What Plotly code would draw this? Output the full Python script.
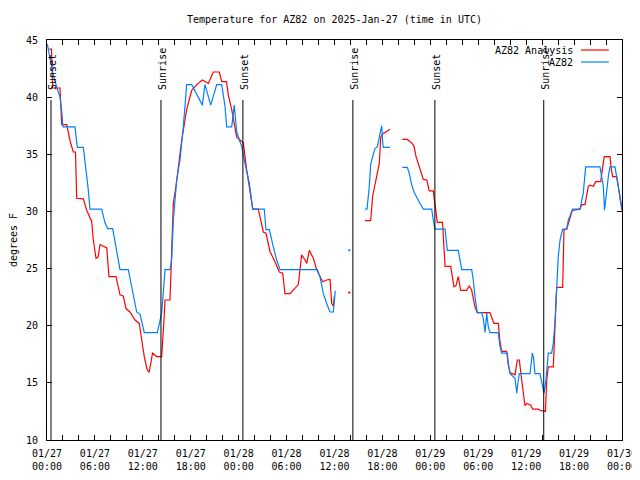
import datetime as dt
import plotly.graph_objects as go

BASE = dt.datetime(2025, 1, 27, 0, 0)

# ---- data (hours after 2025-01-27 00:00 UTC, degrees F); None = gap ----
analysis_hours = [0.29, 0.56, 0.71, 1.63, 1.84, 2.47, 2.88, 3.29, 3.57, 3.72, 4.55, 4.97, 5.6, 5.8, 6.14,
                  6.39, 6.64, 7.48, 7.76, 8.64, 9.14, 9.55, 9.89, 10.39, 11.02, 11.56, 11.86, 12.18, 12.52,
                  12.77, 13.02, 13.21, 13.74, 14.36, 14.65, 14.78, 15.4, 15.61, 15.82, 16.15, 16.57, 16.87,
                  17.49, 18.12, 18.75, 19.45, 20.2, 20.82, 21.58, 21.88, 22.48, 22.7, 23.13, 23.75, 24.17,
                  24.58, 25.01, 25.42, 25.76, 26.46, 26.76, 27.09, 27.42, 27.71, 27.92, 28.55, 29.09, 29.51,
                  29.8, 30.43, 31.47, 31.68, 31.89, 32.31, 32.52, 32.85, 33.35, 33.77, 34.1, 34.52, 35.02,
                  35.44, 35.65, 35.85, 35.98, None,
                  39.82, 40.53, 40.78, 41.07, 41.41, 41.61, 41.79, 42.04, 42.54, 42.95, None,
                  44.49, 45.12, 45.67, 45.96, 46.21, 46.49, 46.79, 47.12, 47.55, 47.87, 48.37, 48.59, 48.71,
                  48.87, 49.53, 49.71, 49.84, 50.55, 50.8, 50.96, 51.21, 51.5, 51.8, 52.55, 52.88, 53.18,
                  53.38, 53.59, 53.88, 55.47, 55.97, 56.51, 56.72, 56.94, 57.56, 57.76, 57.98, 58.6, 58.89,
                  59.14, 59.44, 59.73, 59.85, 60.07, 60.57, 60.82, 61.52, 61.73, 62.42, 62.57, 62.77, 63.4,
                  63.61, 63.82, 64.57, 64.74, 65.07, 65.78, 66.74, 66.95, 67.37, 67.58, 67.78, 67.99, 68.41,
                  68.71, 69.33, 69.58, 69.78, 70.5, 70.62, 70.83, 71.33, 71.53, 71.74, 71.99]
analysis_temp = [44.2, 44.2, 40.8, 40.8, 37.6, 37.6, 36.2, 35.2, 35.2, 31.15, 31.1, 30.1, 29.1, 27.5, 25.9,
                 26.0, 27.1, 26.8, 24.3, 24.3, 22.7, 22.6, 21.5, 21.2, 20.5, 20.2, 18.75, 17.3, 16.2,
                 15.9, 16.8, 17.6, 17.3, 17.3, 20.5, 22.25, 22.25, 26.3, 30.7, 32.2, 34.5, 36.25,
                 38.9, 40.6, 41.1, 41.5, 41.2, 42.2, 42.2, 41.35, 41.35, 40.2, 38.9, 36.5, 36.25,
                 36.0, 33.6, 31.9, 30.2, 30.2, 29.25, 28.2, 28.1, 27.2, 26.5, 25.6, 24.7, 24.6,
                 22.8, 22.8, 23.6, 24.9, 26.2, 25.75, 25.45, 26.6, 25.9, 24.9, 24.4, 23.85, 24.0,
                 24.05, 21.95, 21.7, 22.55, None,
                 29.2, 29.2, 31.35, 32.45, 33.6, 34.2, 36.5, 36.8, 37.0, 37.2, None,
                 36.3, 36.3, 36.0, 35.7, 34.8, 34.2, 33.6, 32.8, 32.75, 31.8, 31.8, 30.6, 29.6,
                 29.05, 29.05, 27.2, 25.2, 25.2, 24.1, 23.4, 23.5, 24.3, 23.1, 23.1, 23.5, 23.1,
                 22.4, 21.65, 21.15, 21.15, 20.2, 20.2, 18.6, 17.75, 17.75, 16.6, 15.9, 15.7, 17.0,
                 17.0, 15.25, 13.9, 13.0, 13.2, 13.05, 12.7, 12.7, 12.6, 12.5, 15.25, 16.4, 16.4,
                 20.2, 23.35, 23.35, 28.4, 28.45, 30.1, 30.2, 30.6, 30.6, 31.45, 32.2, 32.3, 32.2,
                 32.6, 32.6, 33.9, 34.8, 34.8, 33.9, 33.05, 33.05, 32.2, 31.0, 30.1]

obs_hours = [0.04, 0.37, 0.75, 1.25, 1.63, 1.88, 2.0, 3.51, 3.79, 4.55, 4.76, 5.17, 5.38, 6.85, 7.26, 7.6,
             8.23, 8.64, 9.14, 10.18, 10.64, 11.23, 11.65, 12.18, 13.81, 14.36, 14.52, 14.78, 15.4, 15.61,
             15.82, 16.24, 16.65, 17.07, 17.49, 18.12, 19.45, 19.78, 20.5, 21.25, 21.88, 22.29, 22.5,
             23.13, 23.45, 23.75, 24.08, 24.38, 24.79, 25.33, 25.76, 27.21, 27.42, 27.84, 28.34, 28.76,
             29.18, 33.85, 34.18, 34.6, 35.02, 35.44, 35.85, 35.98, 36.1, None,
             39.82, 40.07, 40.36, 40.53, 40.78, 41.07, 41.36, 41.7, 41.91, 42.04, 42.11, 42.95, None,
             44.49, 45.12, 45.37, 45.67, 45.96, 46.3, 46.71, 47.12, 48.17, 48.37, 48.59, 49.84, 50.13,
             51.5, 51.72, 51.93, 53.18, 53.38, 53.59, 53.88, 54.43, 54.63, 54.85, 55.06, 55.26, 55.47,
             56.51, 56.72, 56.94, 57.64, 57.76, 57.98, 58.6, 58.82, 59.02, 59.14, 60.48, 60.77, 60.92,
             61.1, 61.73, 62.07, 62.23, 62.48, 62.77, 63.19, 63.4, 63.61, 63.82, 64.02, 64.24, 64.57,
             65.07, 65.28, 65.83, 66.74, 67.15, 67.3, 67.45, 69.24, 69.46, 69.66, 69.81, 70.0, 70.29,
             70.5, 71.12, 71.33, 71.53, 71.74, 71.99]
obs_temp = [44.65, 43.3, 42.0, 40.8, 40.0, 38.5, 37.4, 37.4, 35.6, 35.6, 34.5, 31.9, 30.2, 30.2, 29.0, 28.5,
            28.5, 27.0, 24.9, 24.9, 23.2, 21.2, 21.0, 19.4, 19.4, 21.1, 22.5, 24.9, 24.9, 25.75,
            29.25, 32.75, 34.5, 37.4, 41.1, 41.1, 39.3, 41.1, 39.3, 41.1, 41.1, 39.2, 37.4,
            37.4, 39.3, 37.0, 36.25, 35.7, 34.2, 32.5, 30.2, 30.2, 28.4, 28.4, 26.9, 25.75,
            24.9, 24.9, 24.3, 22.8, 21.95, 21.2, 21.2, 22.0, 23.05, None,
            30.2, 30.2, 32.2, 34.1, 34.8, 35.5, 35.65, 36.7, 37.5, 36.0, 35.6, 35.6, None,
            33.85, 33.85, 33.3, 32.3, 31.7, 31.3, 30.7, 30.2, 30.2, 29.25, 28.45, 28.45, 26.6,
            26.6, 25.75, 24.9, 24.9, 24.0, 22.55, 21.15, 21.15, 20.65, 19.4, 21.1, 19.9, 19.4,
            19.4, 18.2, 17.6, 17.6, 16.7, 15.8, 15.4, 14.1, 15.25, 15.8, 15.8, 17.6, 17.2,
            15.8, 15.8, 14.7, 14.1, 15.25, 17.6, 17.6, 18.5, 20.35, 23.4, 26.05, 27.5, 28.45,
            28.45, 29.25, 30.2, 30.2, 31.6, 32.5, 33.9, 33.9, 32.75, 32.2, 30.1, 31.5, 33.05,
            33.9, 33.9, 33.05, 32.2, 31.0, 30.3]

# isolated single readings inside the data gap
analysis_dot_hours = [37.85]
analysis_dot_temp = [22.9]
obs_dot_hours = [37.85]
obs_dot_temp = [26.6]

sun_event_hours = [0.5, 14.27, 24.53, 38.3, 48.57, 62.2]
sun_event_names = ["Sunset", "Sunrise", "Sunset", "Sunrise", "Sunset", "Sunrise"]

series_names = ["AZ82 Analysis", "AZ82"]
series_colors = ["#ff0000", "#0080ff"]


def to_time(hours):
    return [None if h is None else BASE + dt.timedelta(hours=h) for h in hours]


fig = go.Figure()
fig.add_trace(go.Scatter(x=to_time(analysis_hours), y=analysis_temp, mode="lines",
                         name=series_names[0], line=dict(color=series_colors[0], width=1.2),
                         connectgaps=False, showlegend=False))
fig.add_trace(go.Scatter(x=to_time(obs_hours), y=obs_temp, mode="lines",
                         name=series_names[1], line=dict(color=series_colors[1], width=1.2),
                         connectgaps=False, showlegend=False))
fig.add_trace(go.Scatter(x=to_time(analysis_dot_hours), y=analysis_dot_temp, mode="markers",
                         marker=dict(color=series_colors[0], size=2, symbol="square"), showlegend=False))
fig.add_trace(go.Scatter(x=to_time(obs_dot_hours), y=obs_dot_temp, mode="markers",
                         marker=dict(color=series_colors[1], size=2, symbol="square"), showlegend=False))

# sunrise / sunset markers
for h, name in zip(sun_event_hours, sun_event_names):
    t = BASE + dt.timedelta(hours=h)
    fig.add_shape(type="line", xref="x", yref="y", x0=t, x1=t, y0=10, y1=39.75,
                  line=dict(color="black", width=1))
    fig.add_annotation(x=t, y=40.45, xref="x", yref="y", text=name, textangle=-90,
                       showarrow=False, xanchor="center", yanchor="bottom", xshift=1,
                       font=dict(size=10, color="black"))

# gnuplot-style key (text right-justified, sample line to the right)
key_rows_y = [0.975, 0.945]
for name, color, yy in zip(series_names, series_colors, key_rows_y):
    fig.add_annotation(x=0.918, y=yy, xref="paper", yref="paper", text=name, showarrow=False,
                       xanchor="right", yanchor="middle", font=dict(size=10, color="black"))
    fig.add_shape(type="line", xref="paper", yref="paper", x0=0.9287, x1=0.977, y0=yy, y1=yy,
                  line=dict(color=color, width=1.2))

# the page adds an 8px body margin, so the figure is 632x472 and margins are shifted by 8px
fig.update_layout(
    width=632, height=472,
    margin=dict(l=39, r=18, t=32, b=40, autoexpand=False),
    paper_bgcolor="white", plot_bgcolor="white",
    font=dict(family="DejaVu Sans Mono", size=10, color="black"),
    title=dict(text="Temperature for AZ82 on 2025-Jan-27 (time in UTC)", x=0.5, xref="paper",
               xanchor="center", y=(472 - 11) / 472, yref="container", yanchor="middle",
               font=dict(size=10, color="black")),
    showlegend=False,
)
fig.update_xaxes(
    type="date", range=[BASE, BASE + dt.timedelta(hours=72)], automargin=False,
    tick0=BASE, dtick=6 * 3600 * 1000, tickformat="%m/%d<br>%H:%M",
    ticks="inside", ticklen=5, tickcolor="black", tickwidth=1,
    minor=dict(dtick=2 * 3600 * 1000, ticks="inside", ticklen=5, tickcolor="black", tickwidth=1),
    showline=True, linecolor="black", linewidth=1, mirror="allticks",
    showgrid=False, zeroline=False, ticklabelstandoff=4,
)
fig.update_yaxes(
    range=[10, 45], dtick=5, tick0=10, automargin=False,
    ticks="inside", ticklen=5, tickcolor="black", tickwidth=1,
    showline=True, linecolor="black", linewidth=1, mirror="allticks",
    showgrid=False, zeroline=False, ticklabelstandoff=6,
    title=dict(text="degrees F", standoff=13, font=dict(size=10)),
)

fig.write_html("out.html")
